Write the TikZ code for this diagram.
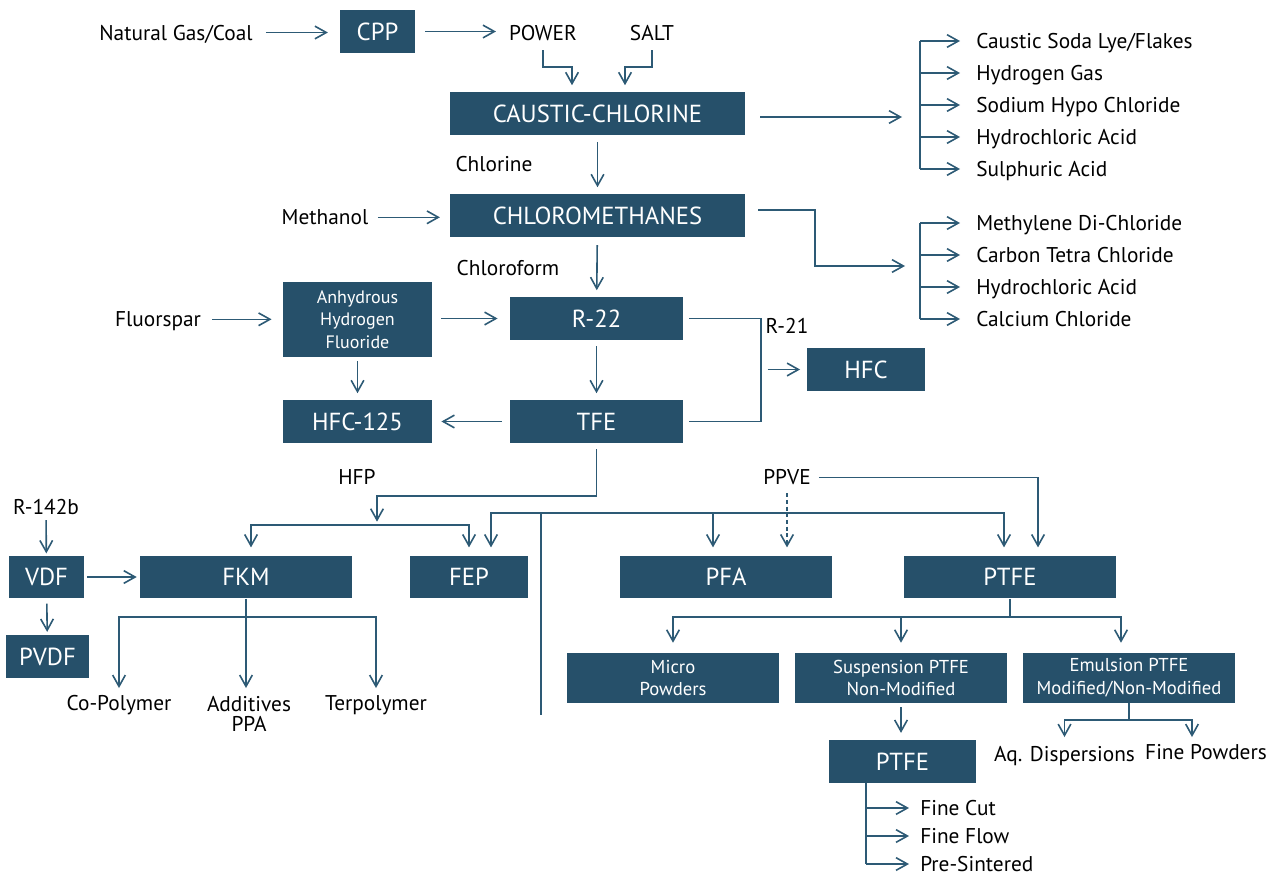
\documentclass[tikz,border=0pt]{standalone}
\usepackage{fontspec}
\setmainfont{PT Sans}
\usetikzlibrary{arrows.meta}
\definecolor{unitblue}{HTML}{26506A}
\definecolor{pipeblue}{HTML}{2D5A75}

\begin{document}
\begin{tikzpicture}[x=0.75pt, y=-0.75pt,
  unit/.style={fill=unitblue, text=white, inner sep=0, minimum height=32pt, font=\fontsize{18.5}{20}\selectfont},
  subunit/.style={unit, align=center, font=\fontsize{14}{17}\selectfont},
  txt/.style={inner sep=0, font=\fontsize{16}{20}\selectfont},
  stream/.style={txt, text height=13pt, text depth=1.5pt},
  product/.style={stream, anchor=west},
  pipe/.style={draw=pipeblue, line width=1.2pt},
  flow/.style={pipe, ->, shorten <=5pt, shorten >=5pt},
  >={Straight Barb[length=8.5pt, width=9.5pt]}]
\useasboundingbox (0,0) rectangle (1274,875);

% units
\node[unit, minimum width=56pt] (cpp) at (377.5,31.5) {CPP};
\node[unit, minimum width=221pt] (caustic) at (597.5,113.5) {CAUSTIC-CHLORINE};
\node[unit, minimum width=221pt] (chloro) at (597.5,215.5) {CHLOROMETHANES};
\node[subunit, minimum width=112pt, minimum height=56pt, font=\fontsize{13.5}{17}\selectfont] (ahf) at (357.5,319.5) {Anhydrous\\Hydrogen\\Fluoride};
\node[unit, minimum width=130pt] (r22) at (596.5,318.5) {R-22};
\node[unit, minimum width=88.5pt] (hfc) at (866,369.5) {HFC};
\node[unit, minimum width=130pt] (tfe) at (596.5,421.5) {TFE};
\node[unit, minimum width=112pt] (hfc125) at (357.5,421.5) {HFC-125};
\node[unit, minimum width=56pt] (vdf) at (46.5,577) {VDF};
\node[unit, minimum width=62pt] (pvdf) at (47.5,656.5) {PVDF};
\node[unit, minimum width=159pt] (fkm) at (246,577) {FKM};
\node[unit, minimum width=88.5pt] (fep) at (469,577) {FEP};
\node[unit, minimum width=159pt] (pfa) at (726,577) {PFA};
\node[unit, minimum width=159pt] (ptfe) at (1010,577) {PTFE};
\node[subunit, minimum width=159pt, minimum height=37.5pt] (micro) at (673,678) {Micro\\Powders};
\node[subunit, minimum width=159pt, minimum height=37.5pt] (susp) at (901,678) {Suspension PTFE\\Non-Modified};
\node[subunit, minimum width=159pt, minimum height=37.5pt] (emul) at (1129,678) {Emulsion PTFE\\Modified/Non-Modified};
\node[unit, minimum width=110pt] (ptfefin) at (902.5,761.5) {PTFE};

% feeds and labels
\node[stream] (gas) at (176,32.5) {Natural Gas/Coal};
\node[stream] (power) at (543,32.5) {POWER};
\node[stream] (salt) at (652,32.5) {SALT};
\node[stream] (chlorine) at (494,164.3) {Chlorine};
\node[stream] (methanol) at (325,217.3) {Methanol};
\node[stream] (chloroform) at (508,268.3) {Chloroform};
\node[stream] (fluorspar) at (158,319.3) {Fluorspar};
\node[stream] (r21) at (787,326.3) {R-21};
\node[stream] (hfp) at (357,477.3) {HFP};
\node[stream] (ppve) at (787,477.3) {PPVE};
\node[stream] (r142b) at (46,507.3) {R-142b};
\node[stream] (copoly) at (119,703.3) {Co-Polymer};
\node[txt, align=center, anchor=north] (additives) at (249,696) {Additives\\[-5pt]PPA};
\node[stream] (terpoly) at (376,703.3) {Terpolymer};
\node[stream] (aqdisp) at (1064.5,754.3) {Aq. Dispersions};
\node[stream] (finepow) at (1206,752.3) {Fine Powders};

% products
\foreach \txt [count=\i] in {{Caustic Soda Lye/Flakes}, Hydrogen Gas, Sodium Hypo Chloride, Hydrochloric Acid, Sulphuric Acid}
  \node[product] (cs\i) at (976,9+32*\i) {\txt};
\foreach \txt [count=\i] in {Methylene Di-Chloride, Carbon Tetra Chloride, Hydrochloric Acid, Calcium Chloride}
  \node[product] (cm\i) at (976,191+32*\i) {\txt};
\foreach \txt [count=\i] in {Fine Cut, Fine Flow, Pre-Sintered}
  \node[product] (pt\i) at (920,780+28*\i) {\txt};

% turning points
\coordinate (powerdrop) at (572,67);
\coordinate (saltdrop) at (625,67);
\coordinate (causticout) at (902,117);
\coordinate (cmturn) at (815,210);
\coordinate (cmout) at (905,266);
\coordinate (spine) at (920,0);
\coordinate (r21join) at (761,369.5);
\coordinate (hfpsplit) at (377,525);
\coordinate (tfebar) at (541,513);
\coordinate (tfebase) at (541,715);
\coordinate (fkmsplit) at (246,617);
\coordinate (ptfesplit) at (1010,617);
\coordinate (emulsplit) at (1129,720);
\coordinate (finspine) at (866,0);

% top chain
\draw[flow, shorten <=9.75pt, shorten >=9pt] (gas) -- (gas -| cpp.west);
\draw[flow, shorten <=7.5pt, shorten >=9.75pt] (cpp) -- (cpp -| power.west);
\draw[flow, shorten <=6pt] (power) |- (powerdrop) -- (caustic.north -| powerdrop);
\draw[flow, shorten <=6pt] (salt) |- (saltdrop) -- (caustic.north -| saltdrop);
\draw[flow] (caustic) -- (chloro);
\draw[flow, shorten <=7pt, shorten >=7.5pt] (methanol) -- (methanol -| chloro.west);
\draw[flow, shorten <=6pt] (chloro) -- (r22);

% by-products
\draw[flow, shorten <=11.5pt, shorten >=0pt] (caustic.east |- causticout) -- (causticout);
\draw[pipe] (spine |- cs1) -- (spine |- cs5);
\foreach \i in {1,...,5}
  \draw[flow, shorten <=0pt, shorten >=12pt] (spine |- cs\i) -- (cs\i);
\draw[flow, shorten <=9.75pt, shorten >=0pt] (chloro.east |- cmturn) -- (cmturn) |- (cmout);
\draw[pipe] (spine |- cm1) -- (spine |- cm4);
\foreach \i in {1,...,4}
  \draw[flow, shorten <=0pt, shorten >=12pt] (spine |- cm\i) -- (cm\i);

% fluorochemicals
\draw[flow, shorten <=8.25pt, shorten >=8.25pt] (fluorspar) -- (fluorspar -| ahf.west);
\draw[flow, shorten <=6.75pt, shorten >=9pt] (ahf.east |- r22) -- (r22);
\draw[flow, shorten <=3pt] (ahf) -- (hfc125);
\draw[flow, shorten <=4.5pt] (r22) -- (tfe);
\draw[flow, shorten <=6pt, shorten >=6.75pt] (tfe) -- (hfc125);
\draw[pipe, shorten <=4.5pt, shorten >=4.5pt] (r22.east) -| (r21join) |- (tfe.east);
\draw[flow] (r21join) -- (hfc);

% polymers
\draw[flow, shorten <=4.5pt, shorten >=2.5pt] (tfe.south) -- ++(0,53) -| (hfpsplit);
\draw[flow, shorten <=0pt, shorten >=6pt] (hfpsplit) -| ([xshift=3.75pt]fkm.north);
\draw[flow, shorten <=0pt, shorten >=6pt] (hfpsplit) -| (fep.north);
\draw[pipe] (tfebar) -- (tfebase);
\draw[flow, shorten <=0pt, shorten >=6pt] (tfebar) -| ([xshift=16.5pt]fep.north);
\draw[flow, shorten <=0pt, shorten >=6pt] (tfebar) -| ([xshift=-9.75pt]pfa.north);
\draw[flow, shorten <=0pt, shorten >=6pt] (tfebar) -| ([xshift=-4.5pt]ptfe.north);
\draw[flow, shorten <=6pt, shorten >=6pt] (ppve) -| ([xshift=21pt]ptfe.north);
\draw[flow, shorten <=4.5pt, shorten >=6pt, dash pattern=on 3pt off 2pt] (ppve) -- (ppve |- pfa.north);

\draw[flow, shorten <=2.25pt, shorten >=1.5pt] (r142b) -- (vdf);
\draw[flow, shorten <=2.25pt, shorten >=2.25pt] (vdf) -- (fkm);
\draw[flow, shorten <=3.75pt, shorten >=2.25pt] (vdf) -- (pvdf);

\draw[flow, shorten <=0pt, shorten >=6pt] (fkm) -- (fkm |- additives.north);
\draw[flow, shorten <=0pt, shorten >=4pt] (fkmsplit) -| (copoly);
\draw[flow, shorten <=0pt, shorten >=4pt] (fkmsplit) -| (terpoly);

\draw[pipe] (ptfe) -- (ptfesplit);
\draw[flow, shorten <=0pt, shorten >=7.5pt] (ptfesplit) -| (micro);
\draw[flow, shorten <=0pt, shorten >=7.5pt] (ptfesplit) -| (susp);
\draw[flow, shorten <=0pt, shorten >=7.5pt] (ptfesplit) -| ([xshift=-6pt]emul.north);

\draw[pipe] (emul) -- (emulsplit);
\draw[flow, shorten <=0pt, shorten >=5.5pt] (emulsplit) -| (aqdisp);
\draw[flow, shorten <=0pt, shorten >=4pt] (emulsplit) -| ([xshift=-10.5pt]finepow.north);

\draw[flow, shorten <=3pt, shorten >=5.25pt] (susp) -- (susp |- ptfefin.north);
\draw[pipe] (ptfefin.south -| finspine) -- (finspine |- pt3);
\foreach \i in {1,2,3}
  \draw[flow, shorten <=0pt, shorten >=8.25pt] (finspine |- pt\i) -- (pt\i);
\end{tikzpicture}
\end{document}
